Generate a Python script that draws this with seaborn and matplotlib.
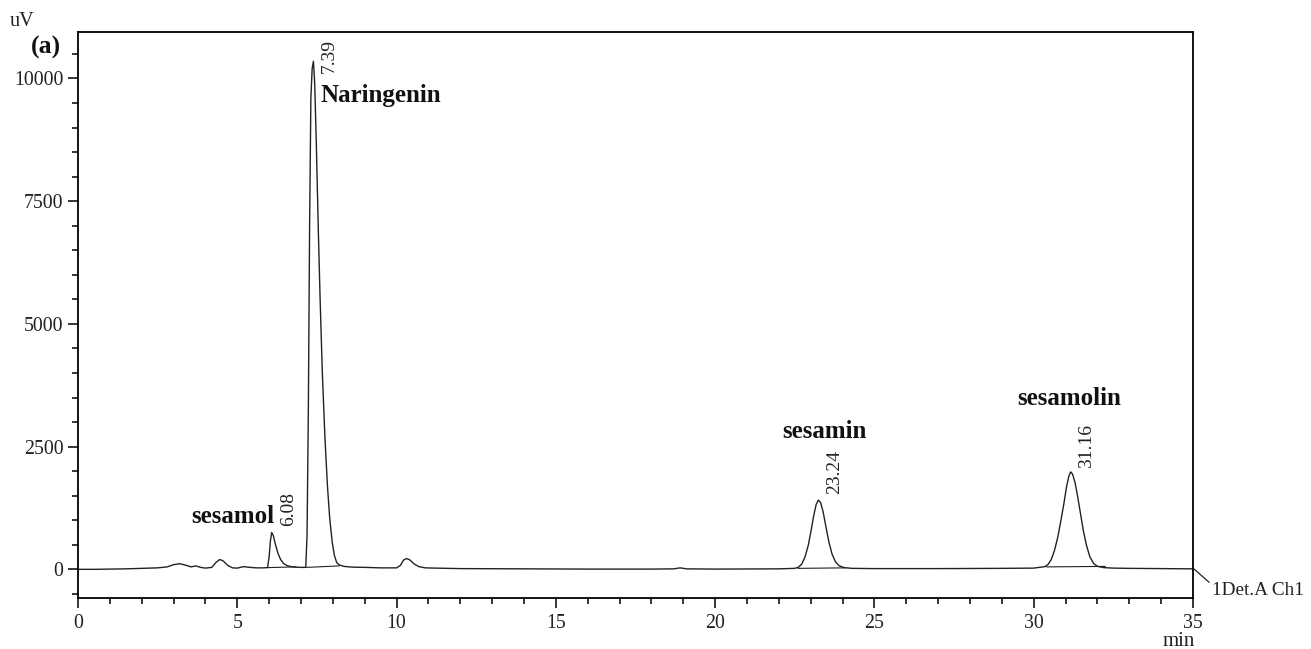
import numpy as np
import pandas as pd
import seaborn as sb
import matplotlib.pyplot as plt
from matplotlib.ticker import MultipleLocator

# chromatogram trace (time in min, signal in uV)
time_min = [0.0, 0.5, 1.0, 1.5, 2.0, 2.5, 2.8, 3.0, 3.2, 3.4, 3.55, 3.7, 3.85, 4.0,
            4.2, 4.33, 4.45, 4.55, 4.7, 4.85, 5.0, 5.2, 5.4, 5.6, 5.8, 5.95, 6.0,
            6.04, 6.08, 6.13, 6.2, 6.28, 6.36, 6.45, 6.55, 6.65, 6.8, 7.0, 7.15,
            7.19, 7.23, 7.27, 7.31, 7.35, 7.39, 7.43, 7.48, 7.54, 7.6, 7.67, 7.75,
            7.83, 7.9, 7.98, 8.05, 8.12, 8.2, 8.35, 8.6, 9.0, 9.5, 10.0, 10.12,
            10.22, 10.32, 10.42, 10.55, 10.7, 10.9, 11.2, 12.0, 14.0, 16.0, 18.0,
            18.7, 18.9, 19.1, 20.0, 22.0, 22.5, 22.62, 22.72, 22.82, 22.92, 23.01,
            23.09, 23.17, 23.24, 23.31, 23.39, 23.48, 23.57, 23.67, 23.78, 23.9,
            24.05, 24.3, 25.0, 27.0, 29.0, 30.0, 30.35, 30.45, 30.55, 30.65, 30.75,
            30.85, 30.95, 31.03, 31.1, 31.16, 31.22, 31.3, 31.38, 31.47, 31.56,
            31.66, 31.76, 31.88, 32.0, 32.2, 32.5, 33.0, 34.0, 35.0]
signal_uv = [0, 0, 5, 10, 20, 30, 50, 95, 115, 80, 50, 70, 40, 25,
             40, 140, 200, 175, 80, 30, 25, 55, 40, 30, 30, 35, 260,
             580, 750, 690, 500, 320, 200, 120, 80, 60, 45, 40, 40,
             700, 3200, 7000, 9600, 10200, 10350, 9900, 8700, 7000, 5500, 4000, 2700,
             1700, 1050, 550, 280, 140, 90, 60, 45, 40, 30, 30, 80,
             190, 220, 190, 110, 55, 30, 25, 15, 10, 5, 5,
             10, 30, 10, 5, 10, 20, 45, 110, 250, 480, 780,
             1080, 1320, 1410, 1360, 1170, 860, 560, 310, 150, 70,
             35, 20, 15, 15, 20, 25, 55, 100, 200, 380, 640,
             980, 1350, 1680, 1890, 1985, 1940, 1760, 1480, 1130, 780,
             480, 260, 120, 60, 35, 25, 20, 15, 10]

# integration baselines drawn under the integrated peaks
base_start = [5.95, 7.17, 22.6, 30.4]
base_end = [6.85, 8.2, 24.1, 32.25]
base_y0 = [35, 40, 20, 50]
base_y1 = [50, 70, 30, 60]

# peak annotations
peak_rt = ["6.08", "7.39", "23.24", "31.16"]
peak_rt_x = [6.62, 7.88, 23.76, 31.67]
peak_rt_y = [1220, 10450, 1980, 2520]
names = ["sesamol", "Naringenin", "sesamin", "sesamolin"]
name_x = [6.15, 7.62, 23.42, 31.1]
name_y = [1080, 9660, 2800, 3470]
name_ha = ["right", "left", "center", "center"]

df = pd.DataFrame({"time": time_min, "signal": signal_uv})

sb.set_style("ticks")
plt.rcParams["font.family"] = ["Liberation Serif", "DejaVu Serif"]

fig = plt.figure(figsize=(13.11, 6.49), dpi=100)
ax = fig.add_axes([78 / 1311, 1 - 598.3 / 649, 1115 / 1311, 566 / 649])

sb.lineplot(data=df, x="time", y="signal", color="#222222", linewidth=1.0,
            sort=False, estimator=None, ax=ax)
for x0, x1, y0, y1 in zip(base_start, base_end, base_y0, base_y1):
    ax.plot([x0, x1], [y0, y1], color="#222222", linewidth=0.8)

ax.set_xlim(0, 35)
ax.set_ylim(-590, 10940)
ax.xaxis.set_major_locator(MultipleLocator(5))
ax.xaxis.set_minor_locator(MultipleLocator(1))
ax.yaxis.set_major_locator(MultipleLocator(2500))
ax.yaxis.set_minor_locator(MultipleLocator(500))
ax.tick_params(which="major", direction="out", length=7.5, width=1.1,
               labelsize=14.3, color="black", labelcolor="#222222", pad=3)
ax.tick_params(which="minor", direction="out", length=4, width=1.1, color="black")
ax.tick_params(axis="x", which="major", pad=4)
ax.set_xlabel("")
ax.set_ylabel("")
for s in ax.spines.values():
    s.set_linewidth(1.3)
    s.set_color("black")

for t, x, y in zip(peak_rt, peak_rt_x, peak_rt_y):
    ax.text(x, y, t, rotation=90, ha="center", va="center", fontsize=14, color="#222222")
for n, x, y, ha in zip(names, name_x, name_y, name_ha):
    ax.text(x, y, n, ha=ha, va="center", fontsize=18, fontweight="bold", color="#111111")

ax.annotate("1Det.A Ch1", xy=(35, 25), xytext=(14, -16), textcoords="offset points",
            ha="left", va="center", fontsize=13.9, color="#222222", annotation_clip=False,
            arrowprops=dict(arrowstyle="-", color="#222222", lw=0.9, shrinkA=0, shrinkB=1,
                            relpos=(0, 0.8)))
ax.text(0.987, -0.077, "min", transform=ax.transAxes, ha="center", va="center",
        fontsize=15, color="#222222")

fig.text(22 / 1311, 1 - 21 / 649, "uV", ha="center", va="center", fontsize=14.5, color="#222222")
fig.text(46 / 1311, 1 - 47 / 649, "(a)", ha="center", va="center", fontsize=18.5,
         fontweight="bold", color="#111111")

fig.savefig("out.png", dpi=100)
